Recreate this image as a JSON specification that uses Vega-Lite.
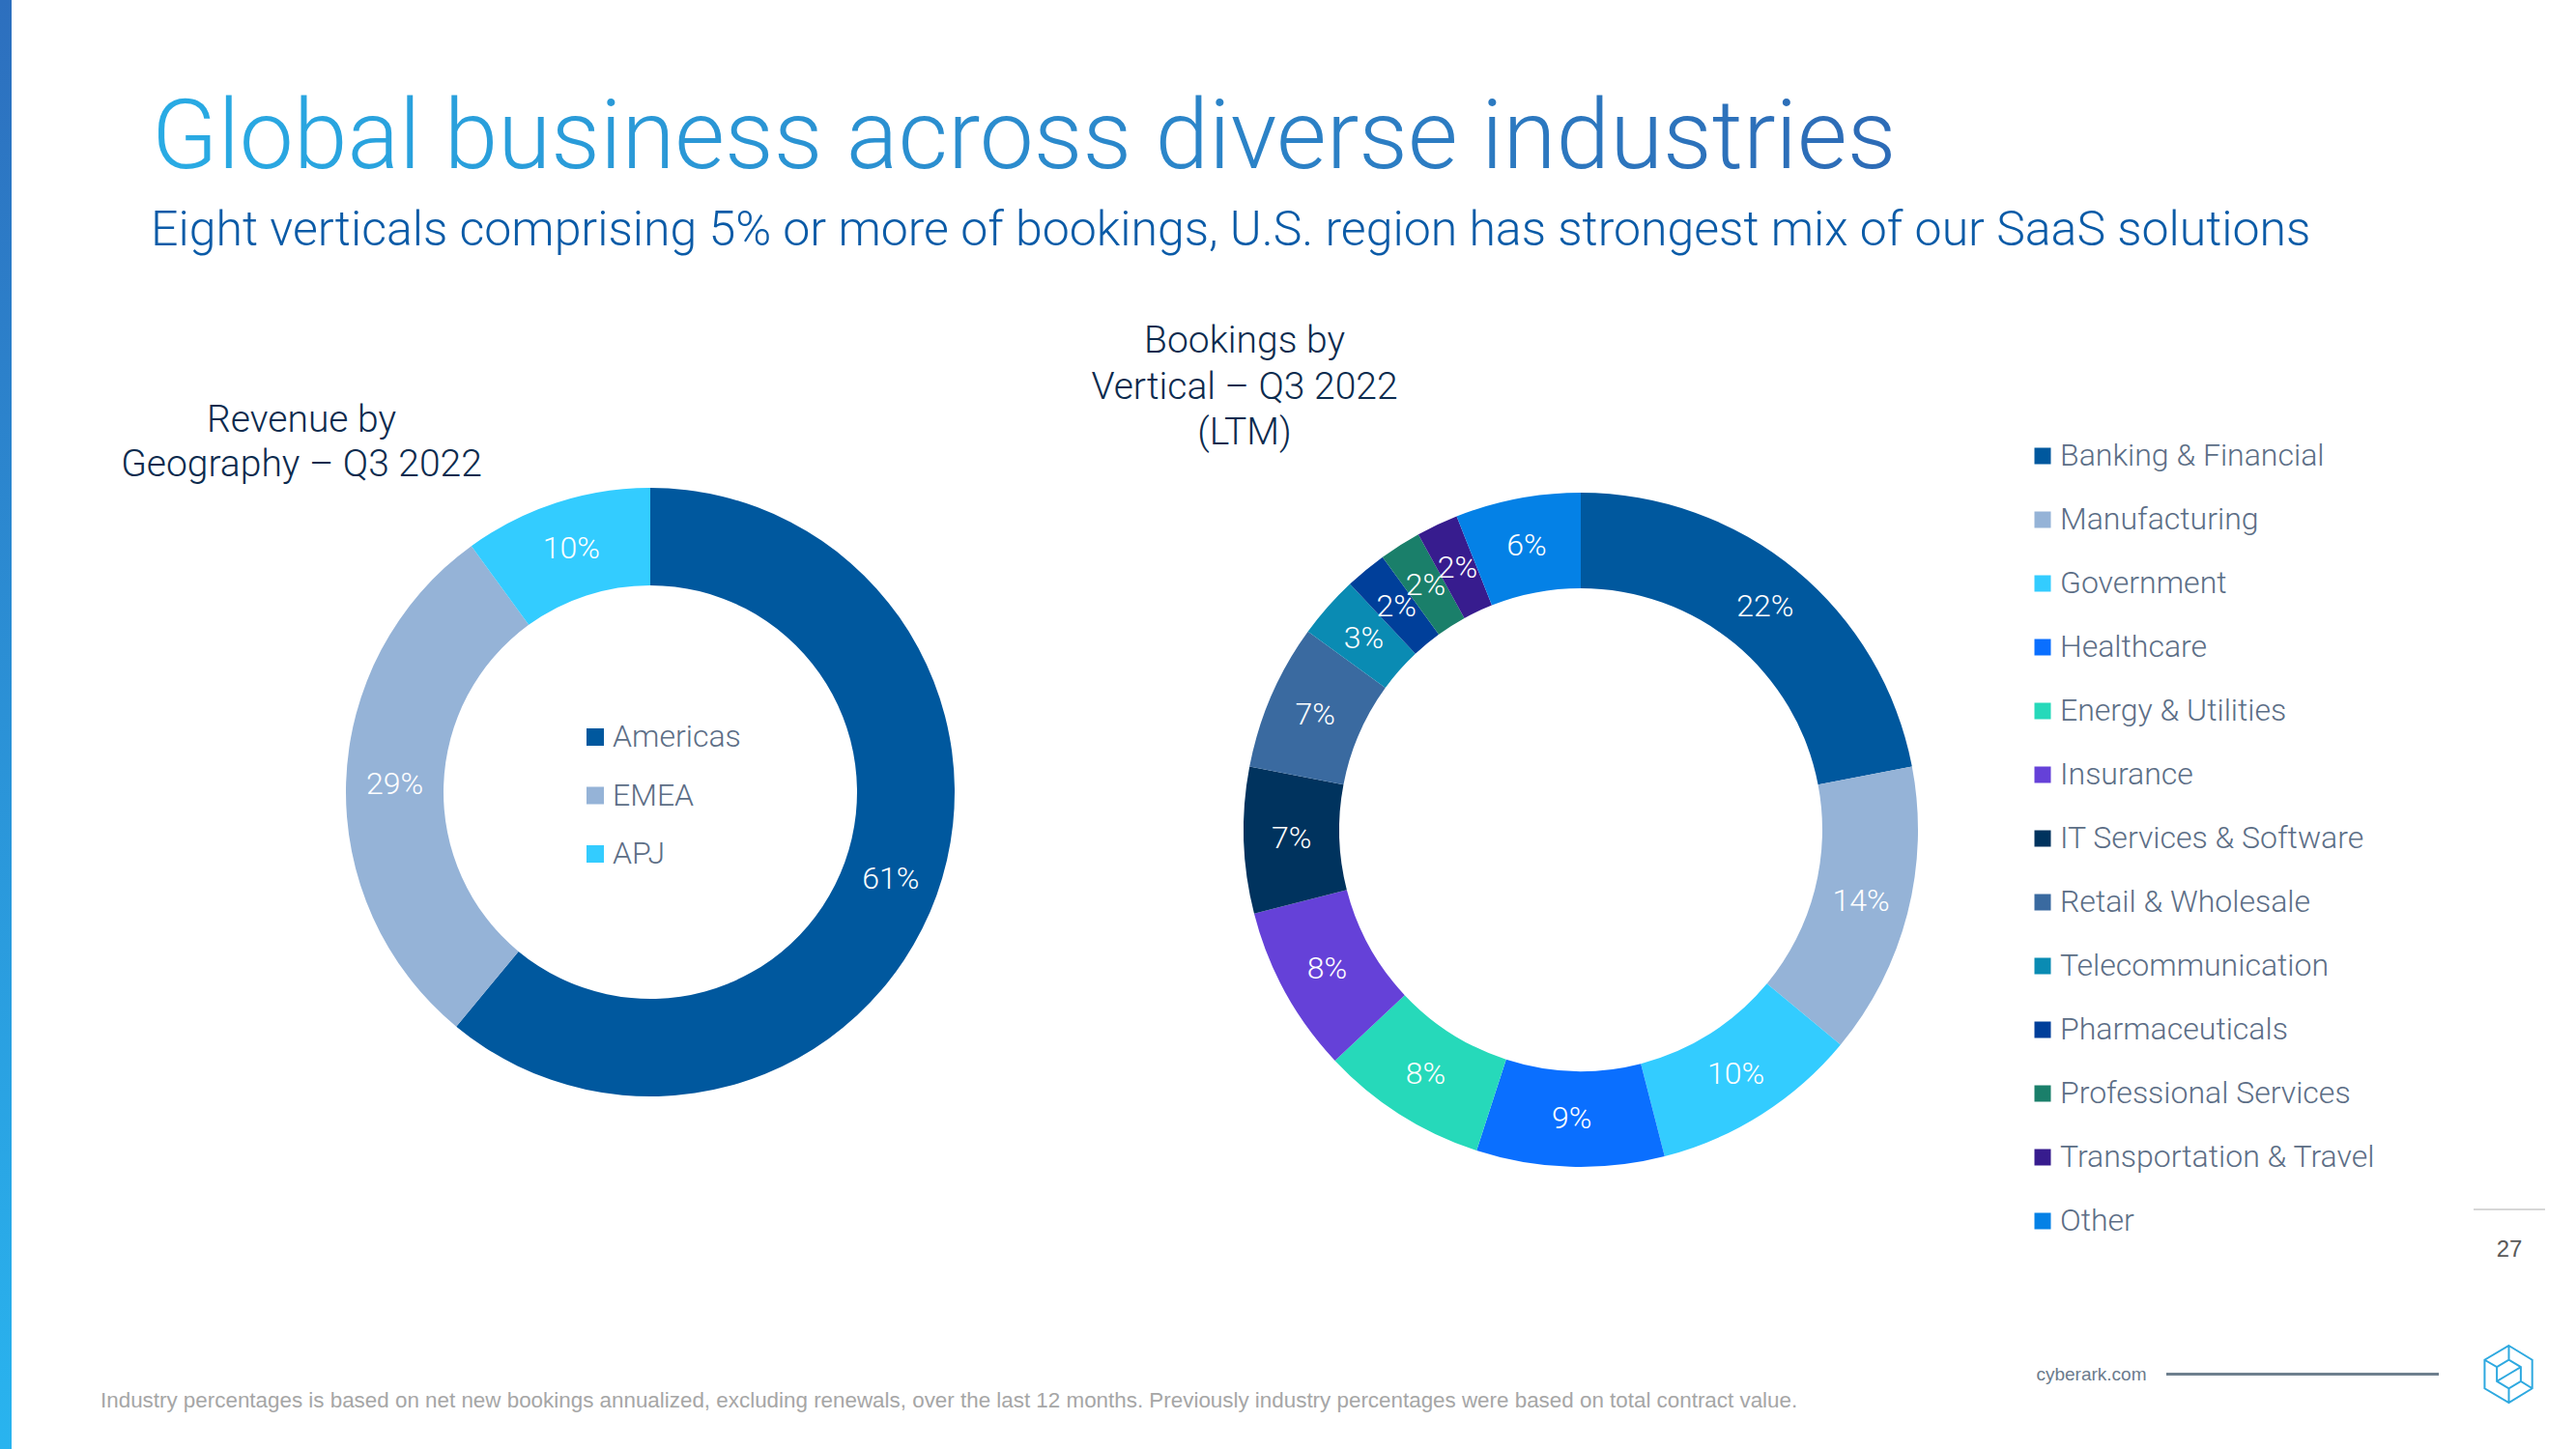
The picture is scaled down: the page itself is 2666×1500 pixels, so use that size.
{
  "$schema": "https://vega.github.io/schema/vega-lite/v6.json",
  "padding": 0,
  "background": "white",
  "bounds": "flush",
  "spacing": 144,
  "config": {"view": {"stroke": null}, "font": "Roboto"},
  "hconcat": [
    {
      "width": 12,
      "height": 1500,
      "data": {"values": [{"k": "bar", "v": 1}]},
      "mark": {"type": "bar", "fill": {"gradient": "linear", "x1": 0, "y1": 0, "x2": 0, "y2": 1, "stops": [{"offset": 0, "color": "#2D6FBE"}, {"offset": 1, "color": "#29B4EF"}]}},
      "encoding": {
        "x": {"field": "k", "type": "nominal", "axis": null, "scale": {"paddingInner": 0, "paddingOuter": 0}},
        "y": {"field": "v", "type": "quantitative", "axis": null, "scale": {"domain": [0, 1], "nice": false}}
      }
    },
    {
      "bounds": "flush",
      "spacing": 315,
      "vconcat": [
        {
          "width": 2,
          "height": 190,
          "data": {"values": [{"t": "Global business across diverse industries"}]},
          "mark": {"type": "text", "align": "left", "baseline": "top", "fontSize": 100, "font": "Roboto", "fontWeight": 300, "fill": {"gradient": "linear", "x1": 0, "y1": 0, "x2": 1, "y2": 0, "stops": [{"offset": 0, "color": "#29ABE4"}, {"offset": 1, "color": "#2D6BB6"}]}},
          "encoding": {"text": {"field": "t", "type": "nominal"}},
          "title": {"text": "Eight verticals comprising 5% or more of bookings, U.S. region has strongest mix of our SaaS solutions", "orient": "bottom", "anchor": "start", "frame": "group", "baseline": "alphabetic", "offset": 60, "fontSize": 50, "font": "Roboto", "fontWeight": 300, "color": "#0B5BA7", "limit": 3000}
        },
        {
          "bounds": "flush",
          "spacing": 746,
          "vconcat": [
            {
              "bounds": "flush",
              "spacing": 201,
              "hconcat": [
                {"width": 1, "height": 1, "data": {"values": []}, "mark": "text"},
                {
                  "bounds": "flush",
                  "spacing": 299,
                  "resolve": {"scale": {"color": "independent", "theta": "independent"}, "legend": {"color": "independent"}},
                  "hconcat": [
                    {
                      "width": 630,
                      "height": 630,
                      "title": {"text": ["Revenue by", "Geography – Q3 2022"], "anchor": "middle", "frame": "group", "dx": -361, "offset": 4, "fontSize": 39, "lineHeight": 46, "font": "Roboto", "fontWeight": 300, "color": "#0C2B4E"},
                      "data": {"values": [
                        {"region": "Americas", "share": 0.61, "i": 1},
                        {"region": "EMEA", "share": 0.29, "i": 2},
                        {"region": "APJ", "share": 0.10, "i": 3}
                      ]},
                      "encoding": {
                        "theta": {"field": "share", "type": "quantitative", "stack": true},
                        "order": {"field": "i", "type": "quantitative"}
                      },
                      "layer": [
                        {
                          "mark": {"type": "arc", "outerRadius": 315, "innerRadius": 214},
                          "encoding": {
                            "color": {"field": "region", "type": "nominal", "scale": {"domain": ["Americas", "EMEA", "APJ"], "range": ["#00589E", "#95B3D7", "#33CCFF"]},
                              "legend": {"orient": "none", "legendX": 242, "legendY": 242, "title": null, "padding": 0, "symbolType": "square", "symbolSize": 324, "symbolStrokeWidth": 0, "labelFontSize": 32, "labelFont": "Roboto", "labelFontWeight": 300, "labelColor": "#5C6E86", "labelOffset": 2, "rowPadding": 28.5, "labelLimit": 1000}}
                          }
                        },
                        {
                          "mark": {"type": "text", "radius": 264.5, "color": "white", "fontSize": 32, "font": "Roboto", "fontWeight": 300},
                          "encoding": {"text": {"field": "share", "type": "quantitative", "format": ".0%"}}
                        }
                      ]
                    },
                    {
                      "width": 698,
                      "height": 708,
                      "title": {"text": ["Bookings by", "Vertical – Q3 2022", "(LTM)"], "anchor": "middle", "frame": "group", "dx": -348, "offset": -12, "fontSize": 39, "lineHeight": 47.5, "font": "Roboto", "fontWeight": 300, "color": "#0C2B4E"},
                      "data": {"values": [
                        {"vertical": "Banking & Financial", "share": 0.22, "i": 1},
                        {"vertical": "Manufacturing", "share": 0.14, "i": 2},
                        {"vertical": "Government", "share": 0.10, "i": 3},
                        {"vertical": "Healthcare", "share": 0.09, "i": 4},
                        {"vertical": "Energy & Utilities", "share": 0.08, "i": 5},
                        {"vertical": "Insurance", "share": 0.08, "i": 6},
                        {"vertical": "IT Services & Software", "share": 0.07, "i": 7},
                        {"vertical": "Retail & Wholesale", "share": 0.07, "i": 8},
                        {"vertical": "Telecommunication", "share": 0.03, "i": 9},
                        {"vertical": "Pharmaceuticals", "share": 0.02, "i": 10},
                        {"vertical": "Professional Services", "share": 0.02, "i": 11},
                        {"vertical": "Transportation & Travel", "share": 0.02, "i": 12},
                        {"vertical": "Other", "share": 0.06, "i": 13}
                      ]},
                      "encoding": {
                        "theta": {"field": "share", "type": "quantitative", "stack": true},
                        "order": {"field": "i", "type": "quantitative"}
                      },
                      "layer": [
                        {
                          "mark": {"type": "arc", "outerRadius": 349, "innerRadius": 250},
                          "encoding": {
                            "color": {"field": "vertical", "type": "nominal",
                              "scale": {"domain": ["Banking & Financial", "Manufacturing", "Government", "Healthcare", "Energy & Utilities", "Insurance", "IT Services & Software", "Retail & Wholesale", "Telecommunication", "Pharmaceuticals", "Professional Services", "Transportation & Travel", "Other"],
                                "range": ["#00589E", "#95B3D7", "#33CCFF", "#0A6FFF", "#26D9BA", "#6541D8", "#00335E", "#3A6AA0", "#0A8BB3", "#003F9A", "#1A7F6A", "#371C8E", "#0481E6"]},
                              "legend": {"orient": "none", "legendX": 811, "legendY": -49, "title": null, "padding": 0, "symbolType": "square", "symbolSize": 289, "symbolStrokeWidth": 0, "labelFontSize": 32, "labelFont": "Roboto", "labelFontWeight": 300, "labelColor": "#5C6E86", "labelOffset": 2, "rowPadding": 34, "labelLimit": 1000}}
                          }
                        },
                        {
                          "mark": {"type": "text", "radius": 299.5, "color": "white", "fontSize": 32, "font": "Roboto", "fontWeight": 300},
                          "encoding": {"text": {"field": "share", "type": "quantitative", "format": ".0%"}}
                        }
                      ]
                    }
                  ]
                }
              ]
            },
            {
              "bounds": "flush",
              "spacing": 142,
              "vconcat": [
                {
                  "bounds": "flush",
                  "spacing": 2403,
                  "hconcat": [
                    {"width": 1, "height": 2, "data": {"values": []}, "mark": "text"},
                    {
                      "width": 74,
                      "height": 2,
                      "data": {"values": [{"page": 27}]},
                      "mark": {"type": "rule", "color": "#B0B0B0", "strokeWidth": 1.2},
                      "encoding": {"y": {"datum": 0.5, "type": "quantitative", "scale": {"domain": [0, 1]}, "axis": null}},
                      "title": {"text": "27", "orient": "bottom", "anchor": "middle", "frame": "group", "baseline": "alphabetic", "offset": 48, "fontSize": 24, "font": "Liberation Sans", "fontWeight": "normal", "color": "#595959"}
                    }
                  ]
                },
                {
                  "bounds": "flush",
                  "spacing": 47,
                  "hconcat": [
                    {
                      "width": 2039,
                      "height": 59,
                      "data": {"values": []},
                      "mark": "text",
                      "title": {"text": "Industry percentages is based on net new bookings annualized, excluding renewals, over the last 12 months. Previously industry percentages were based on total contract value.", "orient": "bottom", "anchor": "start", "frame": "group", "baseline": "alphabetic", "offset": 5, "dx": -52, "fontSize": 22.4, "font": "Liberation Sans", "fontWeight": "normal", "color": "#A6A6A6", "limit": 3000}
                    },
                    {
                      "width": 282,
                      "height": 59,
                      "data": {"values": [{"site": "cyberark.com"}]},
                      "mark": {"type": "rule", "color": "#6E7F8E", "strokeWidth": 3},
                      "encoding": {"y": {"datum": 0.5, "type": "quantitative", "scale": {"domain": [0, 1]}, "axis": null}},
                      "title": {"text": "cyberark.com", "orient": "left", "angle": 0, "anchor": "middle", "frame": "group", "align": "left", "baseline": "middle", "offset": 19, "fontSize": 19, "font": "Liberation Sans", "fontWeight": "normal", "color": "#6B7B8C"}
                    },
                    {
                      "width": 51,
                      "height": 59,
                      "data": {"values": [{"logo": "CyberArk"}]},
                      "mark": {"type": "point", "shape": "M0,-1L0.82,-0.5L0.82,0.5L0,1L-0.85,0.5L-0.85,-0.5Z M-0.85,-0.5L-0.42,-0.25L0,-0.5L0.42,-0.25L0.42,0.25 M0,-1L0,-0.5 M-0.42,-0.25L-0.42,0.25L0,0.5L0.42,0.25L0.82,0.5 M0,0.5L0,1 M-0.42,0.25L0,0L0.42,-0.25", "size": 3481, "filled": false, "stroke": "#2EA9E0", "strokeWidth": 2, "opacity": 1}
                    }
                  ]
                }
              ]
            }
          ]
        }
      ]
    }
  ]
}
